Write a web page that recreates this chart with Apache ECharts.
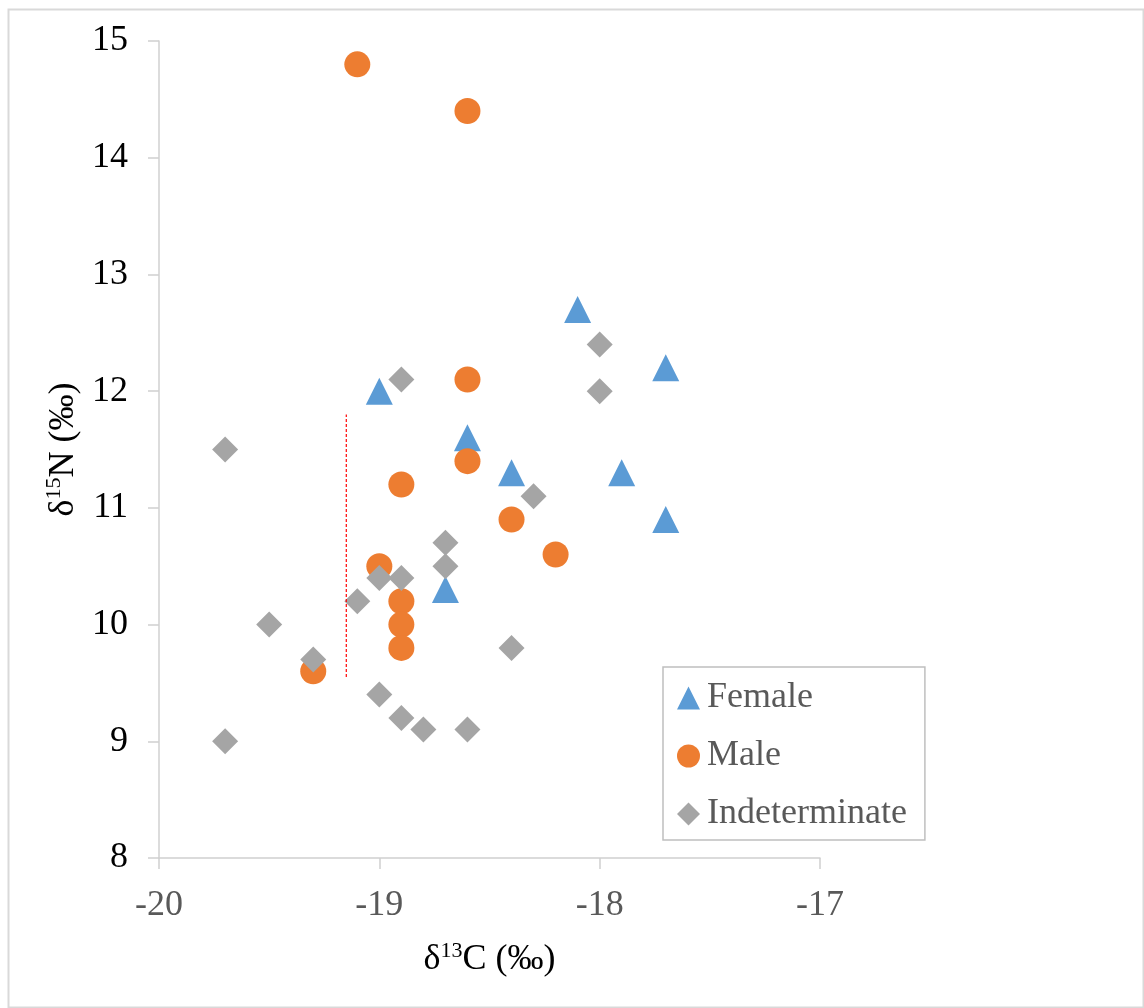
<!DOCTYPE html>
<html>
<head>
<meta charset="utf-8">
<script src="https://cdn.jsdelivr.net/npm/echarts@6/dist/echarts.min.js"></script>
<style>
  html, body { margin: 0; padding: 0; background: #fff; }
  #chart { width: 1144px; height: 1008px; }
</style>
</head>
<body>
<div id="chart"></div>
<script>
// δ13C / δ15N values
const femaleX = [-19.0, -18.6, -18.4, -18.7, -18.1, -17.7, -17.9, -17.7];
const femaleY = [12.0, 11.6, 11.3, 10.3, 12.7, 12.2, 11.3, 10.9];

const maleX = [-19.1, -18.6, -18.6, -18.6, -18.9, -18.4, -18.2, -19.0, -18.9, -18.9, -18.9, -19.3];
const maleY = [14.8, 14.4, 12.1, 11.4, 11.2, 10.9, 10.6, 10.5, 10.2, 10.0, 9.8, 9.6];

const indetX = [-19.7, -18.9, -18.0, -18.0, -18.3, -18.7, -18.7, -19.0, -18.9, -19.1, -19.5, -19.3, -18.4, -19.0, -18.9, -18.8, -18.6, -19.7];
const indetY = [11.5, 12.1, 12.4, 12.0, 11.1, 10.7, 10.5, 10.4, 10.4, 10.2, 10.0, 9.7, 9.8, 9.4, 9.2, 9.1, 9.1, 9.0];

// red dashed reference line
const refLineX = [-19.15, -19.15];
const refLineY = [9.55, 11.8];

const zip = (xs, ys) => xs.map((x, i) => [x, ys[i]]);

const font = '"Liberation Serif", "DejaVu Serif", serif';

let myChart = echarts.init(document.getElementById('chart'));
let option = {
  backgroundColor: '#fff',
  animation: false,
  textStyle: { fontFamily: font },
  graphic: [{
    type: 'rect',
    left: 6, top: 7,
    shape: { width: 1135, height: 998 },
    style: { fill: 'none', stroke: '#d9d9d9', lineWidth: 2 },
    silent: true,
    z: -1
  }],
  grid: { left: 159, right: 324, top: 41, bottom: 150 },
  legend: {
    data: ['Female', 'Male', 'Indeterminate'],
    orient: 'vertical',
    left: 663,
    top: 667,
    padding: [11, 18, 6, 14],
    itemWidth: 23,
    itemHeight: 23,
    itemGap: 18,
    borderColor: '#bfbfbf',
    borderWidth: 1.5,
    textStyle: { fontFamily: font, fontSize: 36, color: '#595959', lineHeight: 40, padding: [0, 0, 0, 2] }
  },
  xAxis: {
    type: 'value',
    min: -20, max: -17, interval: 1,
    name: '{a|δ}{sup|13}{a|C (‰)}',
    nameLocation: 'middle',
    nameGap: 82,
    nameTextStyle: {
      rich: {
        a: { fontFamily: font, fontSize: 36, color: '#000', lineHeight: 40 },
        sup: { fontFamily: font, fontSize: 22, color: '#000', lineHeight: 22, verticalAlign: 'top' }
      }
    },
    axisLine: { show: true, onZero: false, lineStyle: { color: '#d0d0d0', width: 1.5 } },
    axisTick: { show: true, inside: false, length: 11, lineStyle: { color: '#d0d0d0', width: 1.5 } },
    axisLabel: { fontFamily: font, fontSize: 36, color: '#595959', margin: 30 },
    splitLine: { show: false }
  },
  yAxis: {
    type: 'value',
    min: 8, max: 15, interval: 1,
    name: '{a|δ}{sup|15}{a|N (‰)}',
    nameLocation: 'middle',
    nameGap: 64,
    nameRotate: 90,
    nameTextStyle: {
      rich: {
        a: { fontFamily: font, fontSize: 36, color: '#000', lineHeight: 40 },
        sup: { fontFamily: font, fontSize: 22, color: '#000', lineHeight: 22, verticalAlign: 'top' }
      }
    },
    axisLine: { show: true, onZero: false, lineStyle: { color: '#d0d0d0', width: 1.5 } },
    axisTick: { show: true, inside: false, length: 11, lineStyle: { color: '#d0d0d0', width: 1.5 } },
    axisLabel: { fontFamily: font, fontSize: 36, color: '#000', margin: 31 },
    splitLine: { show: false }
  },
  series: [
    {
      name: 'Female',
      type: 'scatter',
      symbol: 'triangle',
      symbolSize: 27,
      itemStyle: { color: '#5b9bd5', opacity: 1 },
      data: zip(femaleX, femaleY)
    },
    {
      name: 'Male',
      type: 'scatter',
      symbol: 'circle',
      symbolSize: 26,
      itemStyle: { color: '#ed7d31', opacity: 1 },
      data: zip(maleX, maleY)
    },
    {
      name: 'Indeterminate',
      type: 'scatter',
      symbol: 'diamond',
      symbolSize: 26,
      itemStyle: { color: '#a5a5a5', opacity: 1 },
      data: zip(indetX, indetY)
    },
    {
      name: 'ref',
      type: 'line',
      symbol: 'none',
      silent: true,
      lineStyle: { color: '#ff0000', width: 1.2, type: [3, 2] },
      data: zip(refLineX, refLineY)
    }
  ]
};
myChart.setOption(option);
</script>
</body>
</html>
